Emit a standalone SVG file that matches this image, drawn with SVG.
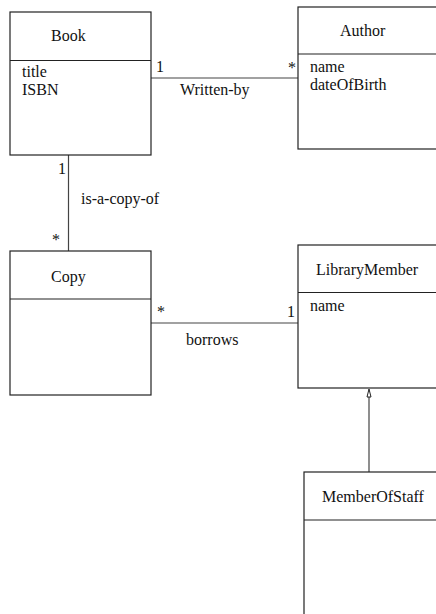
<svg xmlns="http://www.w3.org/2000/svg" width="436" height="614" viewBox="0 0 436 614">
<style>
.box { fill: #fff; stroke: #222; stroke-width: 1.2; }
.sep { stroke: #222; stroke-width: 1.2; }
.conn { stroke: #444; stroke-width: 1.2; fill: none; }
.gen { fill: #fff; stroke: #222; stroke-width: 1; }
</style>
<rect width="436" height="614" fill="#fff"/>
<g font-family="'Liberation Serif', 'DejaVu Serif', serif" font-size="16" fill="#111">
<g id="connectors">
  <line class="conn" x1="151" y1="78" x2="298" y2="78"/>
  <text x="156" y="72">1</text>
  <text x="288" y="73">*</text>
  <text x="180" y="95">Written-by</text>
  <line class="conn" x1="68.5" y1="155" x2="68.5" y2="251"/>
  <text x="58" y="174">1</text>
  <text x="81" y="204">is-a-copy-of</text>
  <text x="52" y="245">*</text>
  <line class="conn" x1="151" y1="323" x2="298" y2="323"/>
  <text x="157" y="317">*</text>
  <text x="287" y="317">1</text>
  <text x="186" y="345">borrows</text>
  <line class="conn" x1="369" y1="397" x2="369" y2="472"/>
  <polygon class="gen" points="369,389 371,397 367,397"/>
</g>
<g id="book">
  <rect class="box" x="10" y="12" width="141" height="143"/>
  <line class="sep" x1="10" y1="60.5" x2="151" y2="60.5"/>
  <text x="51" y="41">Book</text>
  <text x="22" y="77">title</text>
  <text x="22" y="95">ISBN</text>
</g>
<g id="author">
  <rect class="box" x="298" y="7" width="160" height="142"/>
  <line class="sep" x1="298" y1="54" x2="458" y2="54"/>
  <text x="340" y="36">Author</text>
  <text x="310" y="72">name</text>
  <text x="310" y="90">dateOfBirth</text>
</g>
<g id="copy">
  <rect class="box" x="10" y="251" width="141" height="144"/>
  <line class="sep" x1="10" y1="299" x2="151" y2="299"/>
  <text x="51" y="282">Copy</text>
</g>
<g id="librarymember">
  <rect class="box" x="298" y="245" width="160" height="143"/>
  <line class="sep" x1="298" y1="292.5" x2="458" y2="292.5"/>
  <text x="316" y="275">LibraryMember</text>
  <text x="310" y="311">name</text>
</g>
<g id="memberofstaff">
  <rect class="box" x="304" y="472" width="160" height="160"/>
  <line class="sep" x1="304" y1="520" x2="464" y2="520"/>
  <text x="322" y="502">MemberOfStaff</text>
</g>
</g>
</svg>
